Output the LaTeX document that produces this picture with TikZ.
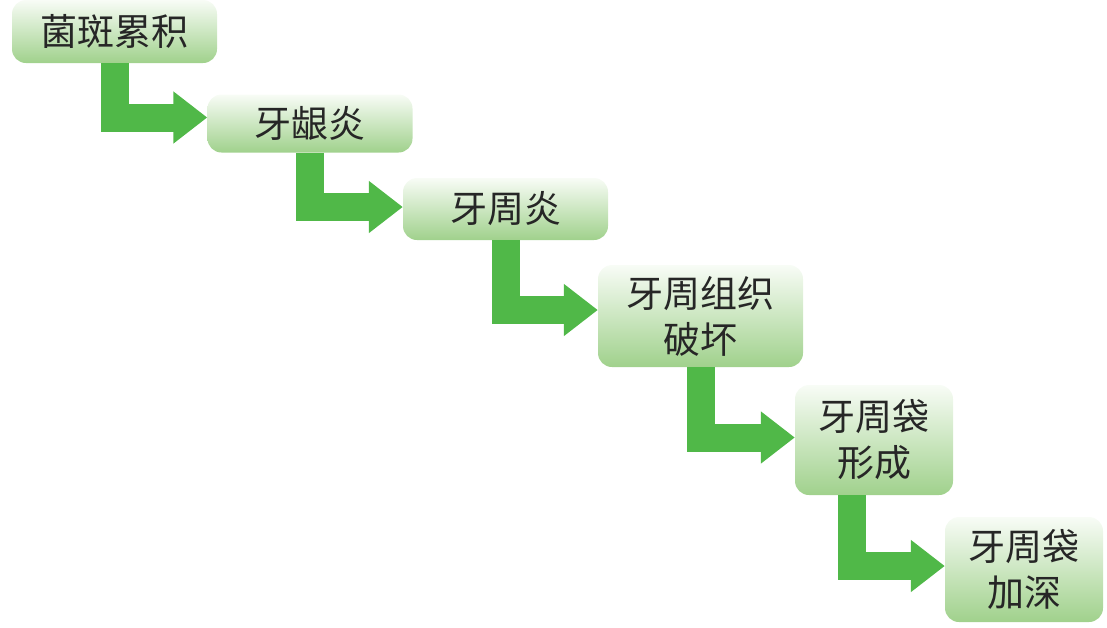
\documentclass[tikz,border=0pt]{standalone}
\usepackage{fontspec}
\newfontfamily\cjk{Noto Sans CJK SC}
\usetikzlibrary{arrows.meta}
\definecolor{boxtop}{RGB}{248,252,246}
\definecolor{boxbot}{RGB}{160,209,140}
\definecolor{flowgreen}{RGB}{80,184,72}

\begin{document}
\begin{tikzpicture}[x=1pt, y=-1pt,
    stage/.style={rectangle, rounded corners=14pt, top color=boxtop,
        bottom color=boxbot, draw=none, minimum width=205pt,
        inner sep=0pt, align=center, font=\cjk\fontsize{37}{46}\selectfont,
        text=black!85},
    flow/.style={draw=flowgreen, line width=28pt,
        -{Triangle[length=34pt, width=50pt]}}
]
    \useasboundingbox (0,0) rectangle (1107,627);
    \node[stage, minimum height=63pt] (plaque) at (114.5,31.5) {菌斑累积};
    \node[stage, minimum height=58pt] (gingiv) at (310,123.5) {牙龈炎};
    \node[stage, minimum height=62pt] (perio) at (505.5,209) {牙周炎};
    \node[stage, minimum height=102pt] (tissue) at (700.5,316) {牙周组织\\破坏};
    \node[stage, minimum width=158pt, minimum height=110pt] (pocket) at (874,440) {牙周袋\\形成};
    \node[stage, minimum width=158pt, minimum height=105pt] (deepen) at (1024,569.5) {牙周袋\\加深};
    \draw[flow] (plaque.south) |- ([yshift=6pt]gingiv.west);
    \draw[flow] (gingiv.south) |- ([yshift=2pt]perio.west);
    \draw[flow] (perio.south) |- ([yshift=6pt]tissue.west);
    \draw[flow] (tissue.south) |- ([yshift=2.5pt]pocket.west);
    \draw[flow] ([xshift=-22pt]pocket.south) |- ([yshift=3.5pt]deepen.west);
\end{tikzpicture}
\end{document}
